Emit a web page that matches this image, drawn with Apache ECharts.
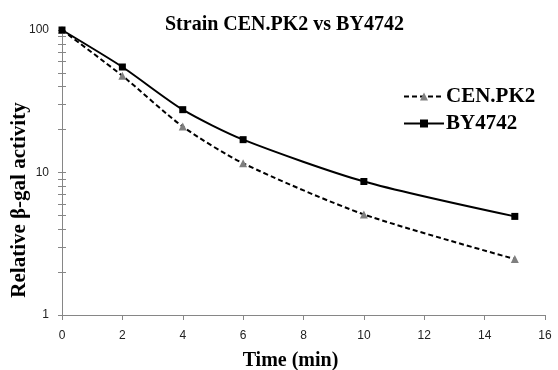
<!DOCTYPE html>
<html><head><meta charset="utf-8">
<script src="https://cdn.jsdelivr.net/npm/echarts@6/dist/echarts.min.js"></script>
<style>html,body{margin:0;padding:0;background:#fff}#c{width:558px;height:370px}</style>
</head><body><div id="c"></div>
<script>
var times = [0, 2, 4, 6, 10, 15];
var cenpk2 = [100, 47.7, 21.0, 11.6, 5.08, 2.47];
var by4742 = [100, 55.0, 27.6, 17.0, 8.65, 4.92];
var xTicks = [0, 2, 4, 6, 8, 10, 12, 14, 16];
var yLabels = [1, 10, 100];
var yTickValues = [1,2,3,4,5,6,7,8,9,10,20,30,40,50,60,70,80,90,100];

function pairs(xs, ys){ return xs.map(function(x,i){return [x, ys[i]];}); }
var yTickLog = yTickValues.map(function(v){ return Math.log10(v); });

var chart = echarts.init(document.getElementById('c'));
var serif = '"Liberation Serif","Times New Roman",serif';
var sans = '"Liberation Sans",Arial,sans-serif';
var tickAxis = function(inside){
  return {
    type: 'value', min: 0, max: 2, position: 'left',
    axisLine: {show: false},
    axisTick: {show: true, inside: inside, length: 4, customValues: yTickLog, lineStyle: {color: '#868686'}},
    axisLabel: {show: false},
    splitLine: {show: false}
  };
};
chart.setOption({
  animation: false,
  title: {text: 'Strain CEN.PK2 vs BY4742', left: 160, top: 10,
    textStyle: {fontFamily: serif, fontWeight: 'bold', fontSize: 20, color: '#000'}},
  legend: {
    orient: 'vertical', left: 398, top: 81, itemWidth: 40, itemHeight: 10, itemGap: 6,
    textStyle: {fontFamily: serif, fontWeight: 'bold', fontSize: 21, color: '#000', padding: [0,0,0,-3]},
    data: ['CEN.PK2', 'BY4742']
  },
  graphic: [{
    type: 'text', x: 20, y: 200, rotation: Math.PI / 2,
    style: {text: 'Relative β-gal activity', fontFamily: serif, fontWeight: 'bold', fontSize: 21,
      fill: '#000', align: 'center', verticalAlign: 'middle'}
  }],
  grid: {left: 62, right: 13, top: 30, bottom: 55, outerBoundsMode: 'none', containLabel: false},
  xAxis: {
    type: 'value', min: 0, max: 16, interval: 2,
    name: 'Time (min)', nameLocation: 'middle', nameGap: 36,
    nameTextStyle: {fontFamily: serif, fontWeight: 'bold', fontSize: 20, color: '#000', padding: [0, 26, 0, 0]},
    axisLine: {show: true, lineStyle: {color: '#868686', width: 1}},
    axisTick: {show: true, length: 5, lineStyle: {color: '#868686'}},
    axisLabel: {fontFamily: sans, fontSize: 12, color: '#222', margin: 15},
    splitLine: {show: false}
  },
  yAxis: [{
    type: 'log', logBase: 10, min: 1, max: 100,
    axisLine: {show: true, lineStyle: {color: '#868686', width: 1}},
    axisTick: {show: false},
    axisLabel: {fontFamily: sans, fontSize: 12, color: '#222', margin: 13},
    splitLine: {show: false}
  }, tickAxis(false), tickAxis(true)],
  series: [{
    name: 'CEN.PK2', type: 'line', smooth: 0.25,
    data: pairs(times, cenpk2),
    symbol: 'triangle', symbolSize: 8,
    itemStyle: {color: '#7f7f7f'},
    lineStyle: {color: '#000', width: 2, type: [5, 3]}
  }, {
    name: 'BY4742', type: 'line', smooth: 0.25,
    data: pairs(times, by4742),
    symbol: 'rect', symbolSize: 7,
    itemStyle: {color: '#000'},
    lineStyle: {color: '#000', width: 2}
  }]
});
</script></body></html>
